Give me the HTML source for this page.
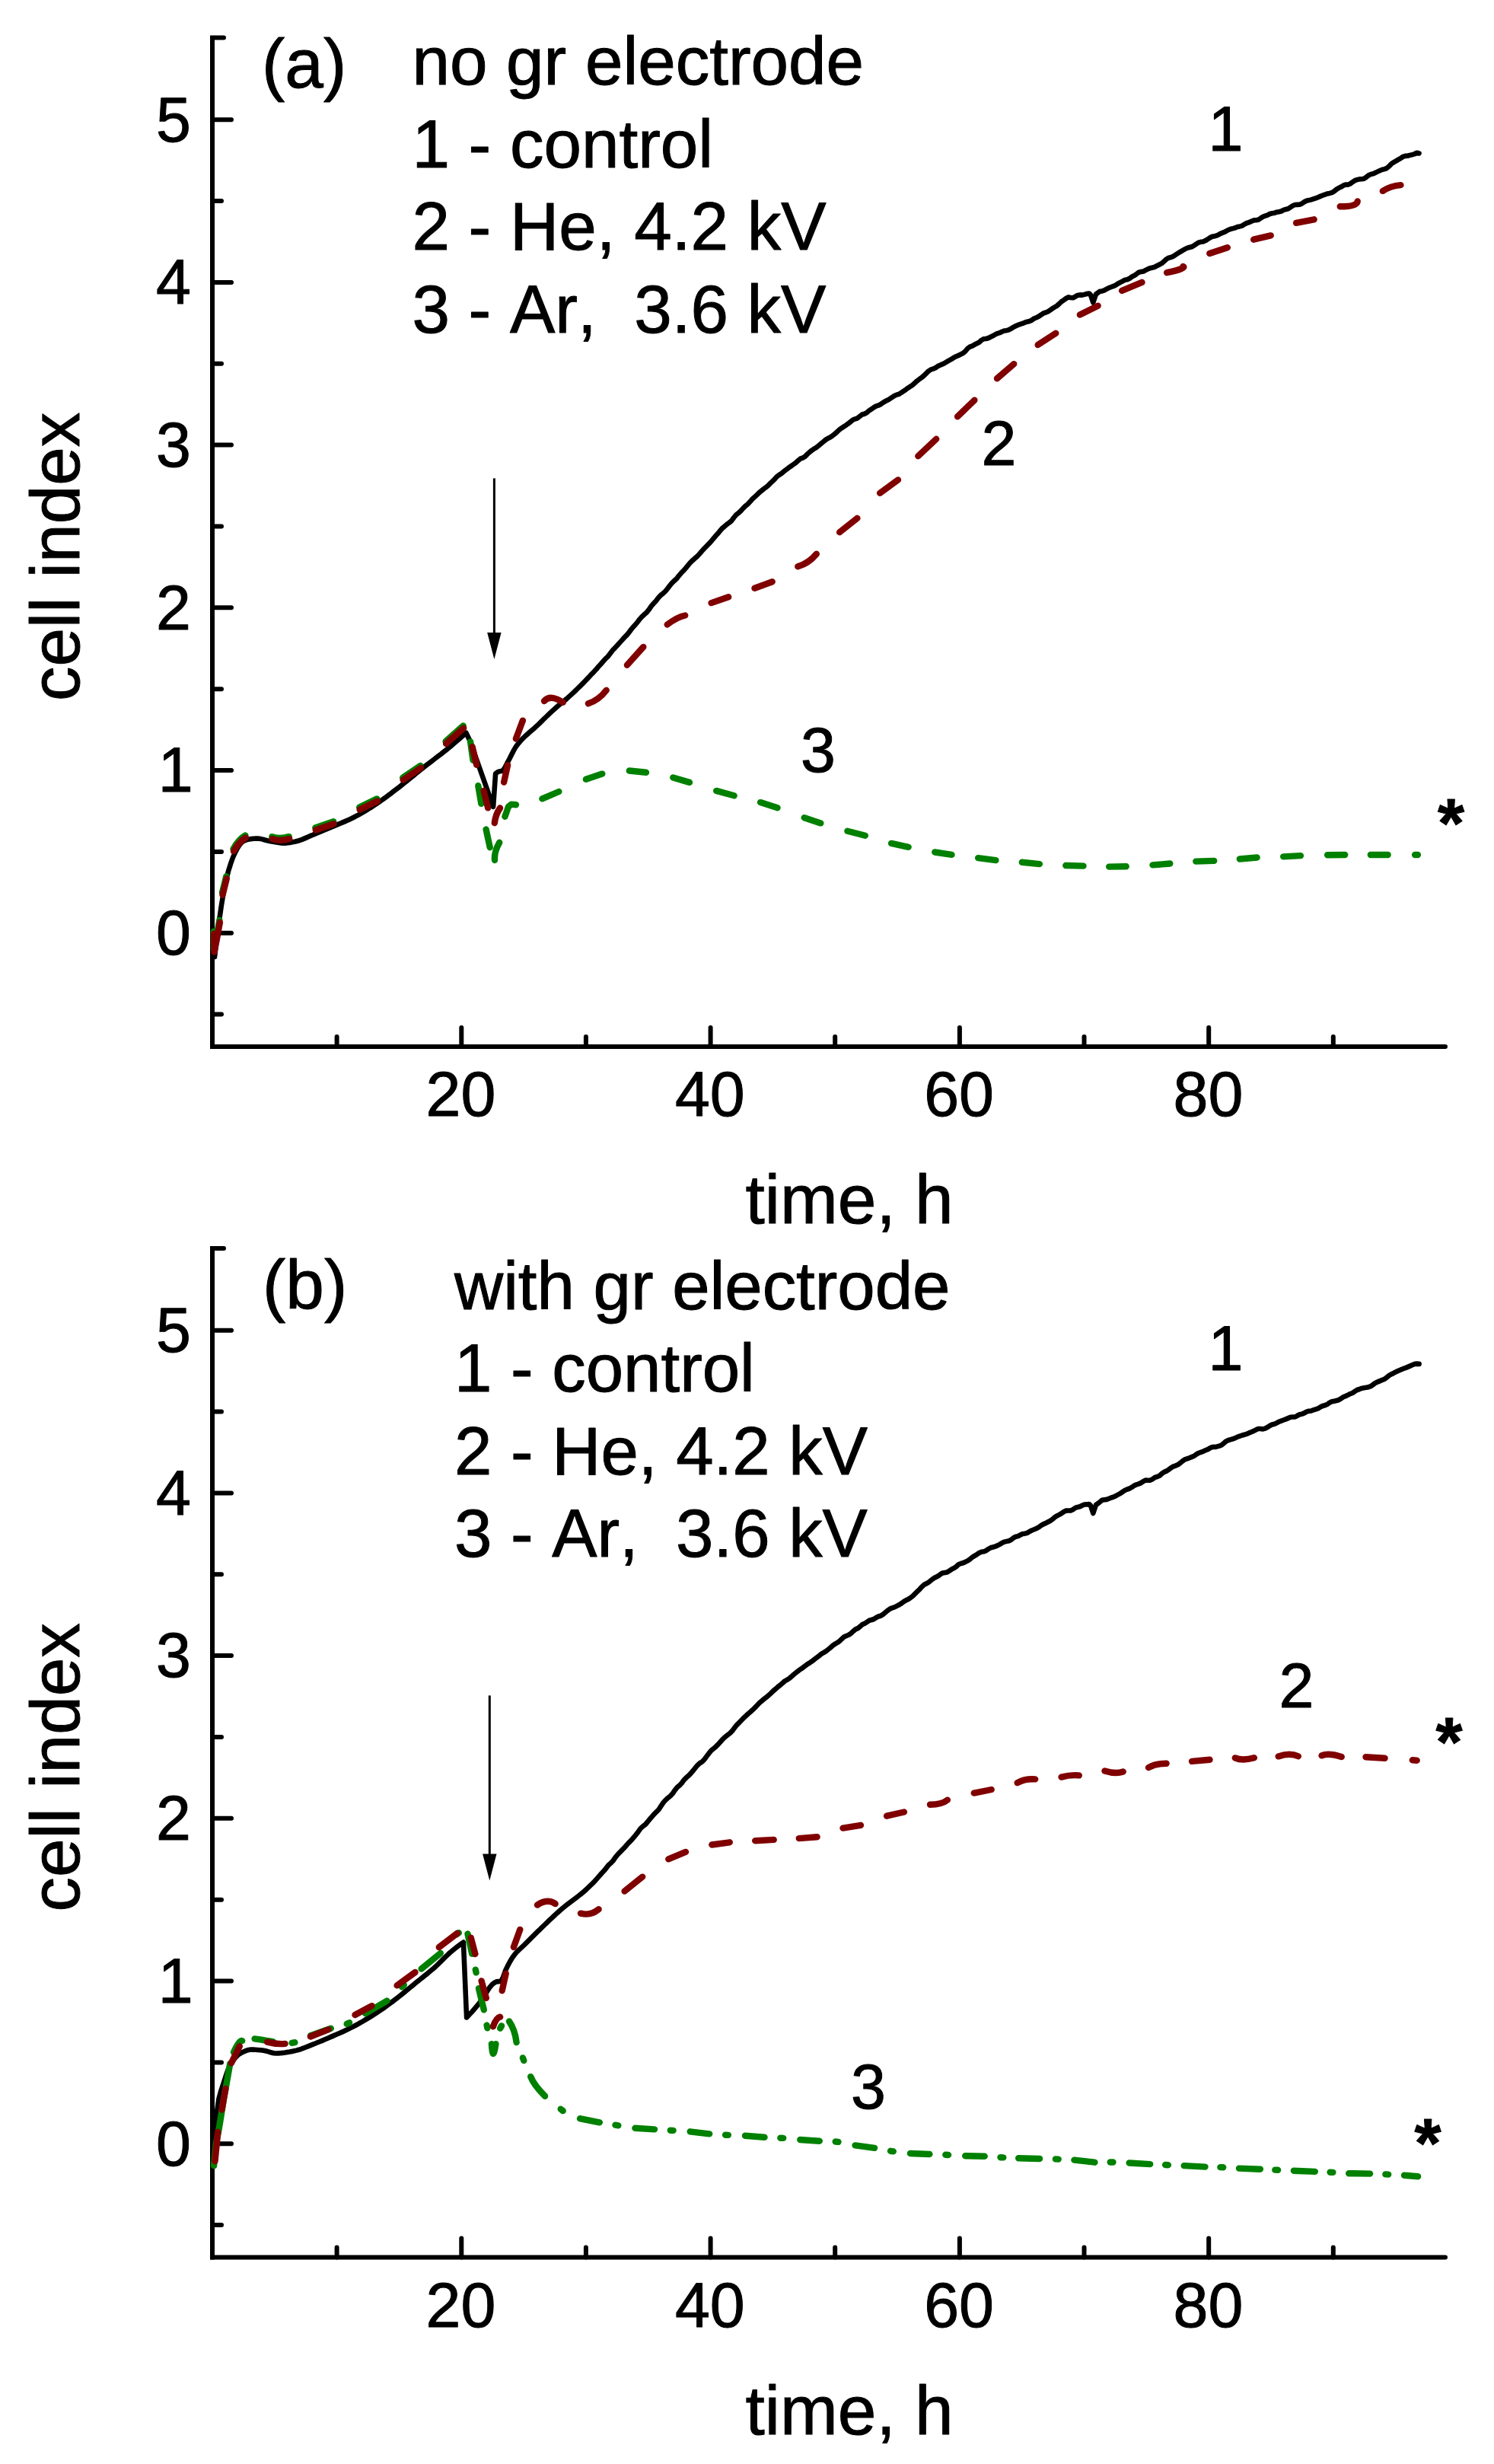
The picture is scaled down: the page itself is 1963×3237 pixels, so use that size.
<!DOCTYPE html>
<html lang="en"><head><meta charset="utf-8"><title>cell index vs time</title>
<style>
html,body{margin:0;padding:0;background:#fff;}
svg{display:block}
text{font-family:"Liberation Sans",Arial,Helvetica,sans-serif;fill:#000;stroke:#000;stroke-width:1px;stroke-linejoin:round;font-kerning:none;white-space:pre;font-variant-ligatures:none}
</style></head><body>
<svg width="1963" height="3237" viewBox="0 0 1963 3237">
<rect width="1963" height="3237" fill="#fff"/>
<g id="panel-a">
<path d="M294,49.5H279V1375H1899" fill="none" stroke="#000" stroke-width="6" stroke-linecap="round" stroke-linejoin="miter"/>
<rect x="276" y="1372" width="6" height="6" fill="#000"/>
<path d="M279,1225.7H304M279,1012.0H304M279,798.3H304M279,584.6H304M279,370.9H304M279,157.2H304M279,1332.5H291M279,1118.9H291M279,905.2H291M279,691.5H291M279,477.8H291M279,264.1H291M606.3,1375V1350M933.6,1375V1350M1260.9,1375V1350M1588.2,1375V1350M442.6,1375V1362M769.9,1375V1362M1097.2,1375V1362M1424.5,1375V1362M1751.8,1375V1362" fill="none" stroke="#000" stroke-width="6" stroke-linecap="round"/>
<text x="251" y="1254.0" font-size="82.5" text-anchor="end">0</text>
<text x="253.7" y="1040.3" font-size="82.5" text-anchor="end">1</text>
<text x="251" y="826.6" font-size="82.5" text-anchor="end">2</text>
<text x="251" y="612.9" font-size="82.5" text-anchor="end">3</text>
<text x="251" y="399.2" font-size="82.5" text-anchor="end">4</text>
<text x="251" y="185.5" font-size="82.5" text-anchor="end">5</text>
<text x="605.5" y="1466.0" font-size="82.5" text-anchor="middle">20</text>
<text x="932.8" y="1466.0" font-size="82.5" text-anchor="middle">40</text>
<text x="1260.1" y="1466.0" font-size="82.5" text-anchor="middle">60</text>
<text x="1587.4" y="1466.0" font-size="82.5" text-anchor="middle">80</text>
<text x="979.5" y="1607.0" font-size="91">time, h</text>
<text transform="translate(104,921.0) rotate(-90)" font-size="91">cell index</text>
<path d="M282.0,1257.0 L285.0,1232.7 L288.0,1209.5 L291.0,1188.7 L294.0,1171.0 L297.0,1156.5 L300.0,1144.6 L303.0,1134.9 L306.0,1126.5 L309.0,1119.9 L312.0,1114.2 L315.1,1109.4 L318.1,1106.2 L321.1,1104.5 L324.1,1103.3 L327.1,1102.6 L330.1,1102.1 L333.1,1101.8 L336.1,1101.6 L339.1,1101.5 L342.1,1101.9 L345.1,1102.6 L348.1,1103.5 L351.1,1104.3 L354.1,1105.0 L357.1,1105.5 L360.1,1106.1 L363.1,1106.6 L366.1,1107.0 L369.1,1107.4 L372.1,1107.6 L375.1,1107.6 L378.1,1107.3 L381.1,1106.9 L384.2,1106.3 L387.2,1105.7 L390.2,1105.0 L393.2,1104.2 L396.2,1103.2 L399.2,1101.9 L402.2,1100.6 L405.2,1099.3 L408.2,1097.9 L411.2,1096.7 L414.2,1095.4 L417.2,1094.2 L420.2,1093.0 L423.2,1091.7 L426.2,1090.5 L429.2,1089.2 L432.2,1088.0 L435.2,1086.7 L438.2,1085.4 L441.2,1084.1 L444.2,1082.9 L447.2,1081.7 L450.3,1080.4 L453.3,1079.1 L456.3,1077.8 L459.3,1076.4 L462.3,1075.0 L465.3,1073.5 L468.3,1071.9 L471.3,1070.3 L474.3,1068.6 L477.3,1066.9 L480.3,1065.1 L483.3,1063.2 L486.3,1061.4 L489.3,1059.4 L492.3,1057.5 L495.3,1055.5 L498.3,1053.5 L501.3,1051.4 L504.3,1049.3 L507.3,1047.1 L510.3,1044.8 L513.4,1042.6 L516.4,1040.2 L519.4,1037.9 L522.4,1035.6 L525.4,1033.3 L528.4,1030.9 L531.4,1028.5 L534.4,1026.1 L537.4,1023.7 L540.4,1021.2 L543.4,1018.8 L546.4,1016.3 L549.4,1013.9 L552.4,1011.5 L555.4,1009.1 L558.4,1006.7 L561.4,1004.4 L564.4,1002.1 L567.4,999.8 L570.4,997.5 L573.4,995.2 L576.4,992.9 L579.5,990.6 L582.5,988.2 L585.5,985.8 L588.5,983.4 L591.5,980.9 L594.5,978.4 L597.5,975.8 L600.5,973.3 L603.5,970.7 L606.5,968.1 L609.5,965.5 L612.5,962.8 L617.3,973.0 L630.6,1010.4 L648.1,1059.8 L651.1,1016.4 L654.1,1014.1 L657.1,1013.2 L660.1,1012.8 L663.1,1009.1 L666.2,1002.9 L669.2,997.3 L672.2,991.3 L675.2,985.4 L678.2,980.4 L681.2,976.5 L684.2,973.0 L687.2,969.9 L690.2,967.0 L693.3,964.2 L696.3,961.6 L699.3,959.0 L702.3,956.4 L705.3,953.6 L708.3,950.8 L711.3,947.8 L714.3,944.9 L717.3,942.0 L720.3,939.1 L723.4,936.2 L726.4,933.4 L729.4,930.7 L732.4,928.0 L735.4,925.5 L738.4,923.1 L741.4,920.6 L744.4,918.1 L747.4,915.4 L750.5,912.6 L753.5,909.8 L756.5,907.0 L759.5,904.0 L762.5,901.1 L765.5,898.1 L768.5,895.0 L771.5,891.9 L774.5,888.7 L777.6,885.3 L780.6,882.3 L783.6,879.1 L786.6,875.4 L789.6,872.2 L792.6,868.8 L795.6,865.4 L798.6,862.6 L801.6,858.8 L804.7,854.6 L807.7,851.4 L810.7,848.3 L813.7,844.9 L816.7,841.6 L819.7,838.2 L822.7,835.2 L825.7,831.8 L828.7,827.7 L831.7,824.0 L834.8,820.6 L837.8,817.0 L840.8,813.1 L843.8,809.8 L846.8,807.0 L849.8,804.4 L852.8,800.7 L855.8,796.1 L858.8,792.7 L861.9,789.5 L864.9,785.4 L867.9,782.2 L870.9,779.8 L873.9,777.1 L876.9,773.5 L879.9,769.5 L882.9,765.8 L885.9,763.0 L889.0,760.2 L892.0,756.3 L895.0,752.8 L898.0,749.7 L901.0,746.4 L904.0,742.7 L907.0,739.2 L910.0,736.2 L913.0,733.5 L916.1,730.9 L919.1,727.6 L922.1,724.1 L925.1,720.8 L928.1,717.7 L931.1,714.7 L934.1,711.5 L937.1,707.9 L940.1,704.3 L943.1,701.1 L946.2,697.2 L949.2,693.8 L952.2,691.4 L955.2,688.7 L958.2,686.6 L961.2,684.1 L964.2,680.0 L967.2,676.4 L970.2,674.0 L973.3,671.2 L976.3,667.9 L979.3,664.9 L982.3,662.5 L985.3,659.3 L988.3,655.8 L991.3,653.1 L994.3,650.3 L997.3,647.4 L1000.4,644.8 L1003.4,642.4 L1006.4,640.2 L1009.4,637.7 L1012.4,634.6 L1015.4,631.8 L1018.4,628.8 L1021.4,625.6 L1024.4,623.5 L1027.5,621.4 L1030.5,618.8 L1033.5,616.6 L1036.5,614.3 L1039.5,612.2 L1042.5,610.1 L1045.5,608.0 L1048.5,605.3 L1051.5,602.7 L1054.5,601.6 L1057.6,599.8 L1060.6,596.8 L1063.6,594.1 L1066.6,591.7 L1069.6,589.6 L1072.6,587.9 L1075.6,585.5 L1078.6,582.9 L1081.6,580.5 L1084.7,577.9 L1087.7,576.0 L1090.7,574.6 L1093.7,572.5 L1096.7,570.2 L1099.7,567.5 L1102.7,564.7 L1105.7,562.4 L1108.7,560.4 L1111.8,558.4 L1114.8,556.3 L1117.8,553.9 L1120.8,551.5 L1123.8,550.3 L1126.8,549.3 L1129.8,546.8 L1132.8,544.5 L1135.8,543.7 L1138.9,542.1 L1141.9,539.4 L1144.9,537.4 L1147.9,535.4 L1150.9,533.6 L1153.9,532.7 L1156.9,531.2 L1159.9,529.1 L1162.9,527.3 L1165.9,525.8 L1169.0,524.1 L1172.0,522.1 L1175.0,520.0 L1178.0,518.7 L1181.0,517.8 L1184.0,516.0 L1187.0,514.0 L1190.0,512.0 L1193.0,509.7 L1196.1,507.7 L1199.1,505.7 L1202.1,503.0 L1205.1,500.3 L1208.1,498.0 L1211.1,495.9 L1214.1,493.4 L1217.1,490.4 L1220.1,487.4 L1223.2,485.4 L1226.2,484.6 L1229.2,483.2 L1232.2,481.1 L1235.2,479.7 L1238.2,478.4 L1241.2,477.0 L1244.2,475.2 L1247.2,473.4 L1250.3,471.8 L1253.3,469.7 L1256.3,468.3 L1259.3,466.9 L1262.3,465.5 L1265.3,464.1 L1268.3,461.5 L1271.3,457.9 L1274.3,455.7 L1277.3,454.6 L1280.4,452.8 L1283.4,451.3 L1286.4,449.8 L1289.4,447.0 L1292.4,445.3 L1295.4,445.0 L1298.4,444.2 L1301.4,442.7 L1304.4,441.3 L1307.5,439.5 L1310.5,438.1 L1313.5,437.2 L1316.5,435.7 L1319.5,434.5 L1322.5,434.2 L1325.5,433.3 L1328.5,431.8 L1331.5,429.9 L1334.6,428.3 L1337.6,426.9 L1340.6,425.9 L1343.6,424.9 L1346.6,423.7 L1349.6,422.7 L1352.6,422.1 L1355.6,420.7 L1358.6,418.5 L1361.7,417.2 L1364.7,415.8 L1367.7,413.7 L1370.7,411.7 L1373.7,410.6 L1376.7,409.5 L1379.7,407.5 L1382.7,405.3 L1385.7,403.5 L1388.7,401.8 L1391.8,399.0 L1394.8,396.1 L1397.8,394.2 L1400.8,392.0 L1403.8,390.4 L1406.8,391.0 L1409.8,391.3 L1412.8,389.8 L1415.8,387.9 L1418.9,387.4 L1421.9,387.6 L1424.9,386.9 L1427.9,386.0 L1430.9,385.5 L1433.0,387.5 L1436.3,397.5 L1440.0,386.5 L1445.0,382.8 L1448.0,382.4 L1451.0,381.4 L1454.1,379.7 L1457.1,378.1 L1460.1,377.0 L1463.1,375.9 L1466.1,374.5 L1469.1,372.5 L1472.2,370.9 L1475.2,369.3 L1478.2,367.7 L1481.2,367.3 L1484.2,365.8 L1487.3,363.5 L1490.3,362.1 L1493.3,360.0 L1496.3,357.7 L1499.3,357.1 L1502.4,356.5 L1505.4,354.9 L1508.4,353.3 L1511.4,352.2 L1514.4,351.5 L1517.4,350.7 L1520.5,349.0 L1523.5,347.5 L1526.5,345.9 L1529.5,343.3 L1532.5,340.5 L1535.6,338.7 L1538.6,338.1 L1541.6,336.7 L1544.6,334.7 L1547.6,332.8 L1550.7,330.9 L1553.7,329.1 L1556.7,327.4 L1559.7,325.9 L1562.7,325.0 L1565.7,324.3 L1568.8,322.6 L1571.8,320.5 L1574.8,318.7 L1577.8,317.8 L1580.8,317.5 L1583.9,316.1 L1586.9,314.2 L1589.9,312.3 L1592.9,310.8 L1595.9,310.2 L1599.0,309.4 L1602.0,307.8 L1605.0,306.3 L1608.0,305.2 L1611.0,303.7 L1614.0,302.0 L1617.1,300.8 L1620.1,300.1 L1623.1,299.3 L1626.1,298.0 L1629.1,297.4 L1632.2,296.6 L1635.2,294.6 L1638.2,293.0 L1641.2,292.1 L1644.2,290.8 L1647.3,289.4 L1650.3,289.3 L1653.3,288.7 L1656.3,286.8 L1659.3,284.8 L1662.3,283.6 L1665.4,282.6 L1668.4,281.0 L1671.4,280.2 L1674.4,279.8 L1677.4,278.7 L1680.5,278.2 L1683.5,277.5 L1686.5,275.9 L1689.5,275.0 L1692.5,274.2 L1695.6,272.2 L1698.6,270.2 L1701.6,269.0 L1704.6,268.9 L1707.6,268.8 L1710.6,267.4 L1713.7,265.2 L1716.7,263.7 L1719.7,263.1 L1722.7,262.4 L1725.7,261.4 L1728.8,260.4 L1731.8,259.2 L1734.8,257.9 L1737.8,256.7 L1740.8,255.7 L1743.9,254.5 L1746.9,253.9 L1749.9,253.1 L1752.9,251.3 L1755.9,248.9 L1758.9,247.0 L1762.0,245.6 L1765.0,243.7 L1768.0,242.6 L1771.0,242.6 L1774.0,241.5 L1777.1,239.2 L1780.1,237.2 L1783.1,236.1 L1786.1,235.4 L1789.1,235.3 L1792.2,234.8 L1795.2,232.7 L1798.2,230.3 L1801.2,228.9 L1804.2,228.2 L1807.2,226.9 L1810.3,225.4 L1813.3,224.0 L1816.3,222.8 L1819.3,222.1 L1822.3,220.9 L1825.4,218.1 L1828.4,215.0 L1831.4,213.1 L1834.4,211.4 L1837.4,209.6 L1840.5,207.8 L1843.5,205.9 L1846.5,204.9 L1849.5,204.7 L1852.5,203.9 L1855.5,203.2 L1858.6,202.3 L1861.6,200.8 L1864.6,201.4" fill="none" stroke="#000" stroke-width="6.6" stroke-linejoin="round" stroke-linecap="round"/>
<path d="M280.8,1223.8L281.0,1247.5L284.0,1233.0L288.4,1208.8M292.0,1172.7L297.3,1151.3M306.5,1115.3Q313.6,1102.6 322.4,1097.5M357.3,1099.1Q367.9,1102.9 379.7,1099.1M414.3,1087.5L438.2,1079.3M472.2,1060.6L495.3,1049.4M529.2,1021.6L552.3,1005.9M585.6,974.0L608.7,953.5M618.1,974.4L621.5,998.7M628.3,1032.2L632.3,1055.9M638.6,1089.5L643.7,1113.2M650.0,1130.0Q649.1,1119.2 656.2,1106.8M663.4,1072.8L668.0,1059.8L672.0,1056.6L678.0,1057.2M712.4,1049.4L734.3,1040.0M769.9,1023.8L791.3,1016.6M826.8,1012.5L849.0,1014.8M884.3,1021.5L906.0,1027.9M941.2,1038.9L964.6,1045.3M999.1,1054.1L1021.5,1061.2M1056.7,1074.2L1078.3,1081.4M1113.4,1091.8L1136.8,1097.7M1171.1,1107.9L1193.6,1112.8M1228.3,1119.5L1250.5,1122.9M1285.2,1127.1L1308.4,1130.1M1342.8,1132.8L1365.9,1135.1M1400.3,1137.0L1423.5,1137.6M1457.2,1138.6L1479.7,1138.3M1514.5,1136.4L1537.3,1134.5M1571.3,1131.6L1595.2,1130.9M1628.8,1128.5L1651.6,1126.5M1686.2,1125.4L1708.9,1124.1M1744.1,1123.3L1767.2,1123.0M1800.8,1123.0L1823.6,1123.0M1859.1,1123.0L1862.9,1123.0" fill="none" stroke="#008000" stroke-width="8.4" stroke-linecap="round" stroke-linejoin="round"/>
<path d="M281.3,1226.8L281.5,1250.5L284.5,1236.0L288.9,1211.8M292.5,1175.7L297.8,1154.3M307.0,1118.3Q314.1,1105.6 322.9,1100.5M357.8,1102.1Q368.4,1105.9 380.2,1102.1M414.8,1090.5L438.7,1082.3M472.7,1063.6L495.8,1052.4M529.7,1024.6L552.8,1008.9M586.1,977.0L609.2,956.5M620.6,981.0L626.2,1004.7M635.6,1038.9L641.2,1061.4M649.8,1081.2Q651.2,1069.8 657.0,1061.5M662.1,1027.6L667.1,1005.1M677.9,970.5L686.9,946.6M715.0,921.0Q722.7,911.8 739.7,922.7M772.9,924.2Q786.4,920.3 796.7,906.8M823.9,873.8L845.3,849.9M876.7,820.5Q890.1,810.5 900.2,808.5M934.6,792.1L957.2,784.3M991.5,772.7L1014.7,764.3M1048.3,744.3Q1062.8,739.8 1072.8,727.7M1103.1,699.2L1126.4,680.8M1156.1,647.8L1180.0,630.4M1206.3,599.2L1230.2,576.8M1258.1,547.3L1280.4,525.7M1310.0,497.2L1332.2,478.1M1363.7,453.1L1387.3,437.8M1418.9,413.6L1442.6,401.7M1474.1,381.9L1500.5,370.8M1533.1,358.2Q1559.6,352.5 1554.5,349.9M1589.3,333.0L1612.8,325.2M1647.2,314.7L1669.7,309.4M1703.1,292.9L1726.6,288.3M1760.7,271.3Q1783.0,271.5 1783.7,264.5M1816.8,250.9Q1827.0,244.2 1840.4,243.1" fill="none" stroke="#800000" stroke-width="8.4" stroke-linecap="round" stroke-linejoin="round"/>
<path d="M649.4,628.4V846" stroke="#000" stroke-width="3" fill="none"/><path d="M640.1999999999999,831H658.6L649.4,866Z" fill="#000"/>
<text x="344" y="115" font-size="91">(a)</text>
<text x="541.4" y="111.0" font-size="89" xml:space="preserve">no gr electrode</text>
<text x="541.4" y="219.7" font-size="89" xml:space="preserve">1 - control</text>
<text x="541.4" y="328.4" font-size="89" xml:space="preserve">2 - He, 4.2 kV</text>
<text x="541.4" y="437.1" font-size="89" xml:space="preserve">3 - Ar,  3.6 kV</text>
<text x="1587.6" y="197.7" font-size="82.5">1</text>
<text x="1289.5" y="611.4" font-size="82.5">2</text>
<text x="1052" y="1014.2" font-size="82.5">3</text>
<text x="1889" y="1112.5" font-size="90" font-weight="bold">*</text>
</g>
<g id="panel-b">
<path d="M294,1640.0H279V2965.5H1899" fill="none" stroke="#000" stroke-width="6" stroke-linecap="round" stroke-linejoin="miter"/>
<rect x="276" y="2962.5" width="6" height="6" fill="#000"/>
<path d="M279,2816.2H304M279,2602.5H304M279,2388.8H304M279,2175.1H304M279,1961.4H304M279,1747.7H304M279,2923.1H291M279,2709.4H291M279,2495.7H291M279,2281.9H291M279,2068.2H291M279,1854.6H291M606.3,2965.5V2940.5M933.6,2965.5V2940.5M1260.9,2965.5V2940.5M1588.2,2965.5V2940.5M442.6,2965.5V2952.5M769.9,2965.5V2952.5M1097.2,2965.5V2952.5M1424.5,2965.5V2952.5M1751.8,2965.5V2952.5" fill="none" stroke="#000" stroke-width="6" stroke-linecap="round"/>
<text x="251" y="2844.5" font-size="82.5" text-anchor="end">0</text>
<text x="253.7" y="2630.8" font-size="82.5" text-anchor="end">1</text>
<text x="251" y="2417.1" font-size="82.5" text-anchor="end">2</text>
<text x="251" y="2203.4" font-size="82.5" text-anchor="end">3</text>
<text x="251" y="1989.7" font-size="82.5" text-anchor="end">4</text>
<text x="251" y="1776.0" font-size="82.5" text-anchor="end">5</text>
<text x="605.5" y="3056.5" font-size="82.5" text-anchor="middle">20</text>
<text x="932.8" y="3056.5" font-size="82.5" text-anchor="middle">40</text>
<text x="1260.1" y="3056.5" font-size="82.5" text-anchor="middle">60</text>
<text x="1587.4" y="3056.5" font-size="82.5" text-anchor="middle">80</text>
<text x="979.5" y="3197.5" font-size="91">time, h</text>
<text transform="translate(104,2511.5) rotate(-90)" font-size="91">cell index</text>
<path d="M281.5,2845.5 L284.5,2777.7 L287.5,2757.1 L290.5,2746.2 L293.5,2737.3 L296.5,2727.9 L299.5,2719.4 L302.5,2712.6 L305.5,2708.0 L308.5,2704.1 L311.5,2700.8 L314.5,2698.3 L317.5,2696.6 L320.5,2695.2 L323.6,2693.9 L326.6,2693.0 L329.6,2692.6 L332.6,2692.6 L335.6,2692.8 L338.6,2693.0 L341.6,2693.2 L344.6,2693.5 L347.6,2694.0 L350.6,2694.7 L353.6,2695.6 L356.6,2696.5 L359.6,2697.2 L362.6,2697.5 L365.6,2697.4 L368.6,2697.2 L371.6,2696.9 L374.6,2696.5 L377.6,2696.0 L380.6,2695.5 L383.6,2694.9 L386.6,2694.3 L389.6,2693.6 L392.6,2692.8 L395.6,2691.8 L398.6,2690.7 L401.6,2689.5 L404.7,2688.3 L407.7,2687.1 L410.7,2685.9 L413.7,2684.7 L416.7,2683.5 L419.7,2682.3 L422.7,2681.1 L425.7,2679.8 L428.7,2678.5 L431.7,2677.2 L434.7,2675.9 L437.7,2674.6 L440.7,2673.3 L443.7,2672.0 L446.7,2670.7 L449.7,2669.4 L452.7,2668.0 L455.7,2666.6 L458.7,2665.1 L461.7,2663.6 L464.7,2662.1 L467.7,2660.5 L470.7,2658.9 L473.7,2657.2 L476.7,2655.5 L479.7,2653.7 L482.7,2651.9 L485.7,2650.1 L488.8,2648.2 L491.8,2646.3 L494.8,2644.3 L497.8,2642.3 L500.8,2640.3 L503.8,2638.2 L506.8,2636.1 L509.8,2633.9 L512.8,2631.7 L515.8,2629.5 L518.8,2627.2 L521.8,2624.9 L524.8,2622.5 L527.8,2620.1 L530.8,2617.6 L533.8,2615.2 L536.8,2612.7 L539.8,2610.2 L542.8,2607.8 L545.8,2605.3 L548.8,2602.9 L551.8,2600.5 L554.8,2598.1 L557.8,2595.7 L560.8,2593.3 L563.8,2590.8 L566.8,2588.3 L569.9,2585.7 L572.9,2583.0 L575.9,2580.1 L578.9,2577.2 L581.9,2574.1 L584.9,2571.1 L587.9,2568.3 L590.9,2565.5 L593.9,2563.0 L596.9,2560.5 L599.9,2558.2 L602.9,2555.9 L605.9,2553.7 L608.9,2551.6 L613.1,2650.4 L616.1,2647.3 L619.1,2644.1 L622.1,2640.7 L625.1,2637.2 L628.1,2633.6 L631.1,2629.8 L634.1,2625.4 L637.2,2620.6 L640.2,2615.7 L643.2,2611.2 L646.2,2607.6 L649.2,2605.0 L652.2,2603.4 L655.2,2603.1 L658.2,2602.8 L661.2,2597.2 L664.2,2588.5 L667.2,2582.4 L670.2,2576.8 L673.2,2571.8 L676.2,2567.7 L679.2,2564.2 L682.3,2561.1 L685.3,2558.3 L688.3,2555.6 L691.3,2552.7 L694.3,2549.7 L697.3,2546.7 L700.3,2543.7 L703.3,2540.7 L706.3,2537.7 L709.3,2534.8 L712.3,2531.9 L715.3,2529.0 L718.3,2526.1 L721.3,2523.2 L724.3,2520.4 L727.4,2517.5 L730.4,2514.7 L733.4,2512.0 L736.4,2509.3 L739.4,2506.8 L742.4,2504.3 L745.4,2501.9 L748.4,2499.6 L751.4,2497.3 L754.4,2495.1 L757.4,2492.8 L760.4,2490.5 L763.4,2488.1 L766.4,2485.7 L769.4,2483.0 L772.5,2480.1 L775.5,2477.2 L778.5,2474.4 L781.5,2471.3 L784.5,2467.9 L787.5,2464.4 L790.5,2461.0 L793.5,2457.8 L796.5,2454.1 L799.5,2450.3 L802.5,2447.6 L805.5,2444.5 L808.5,2440.2 L811.5,2436.5 L814.5,2433.3 L817.6,2430.2 L820.6,2427.2 L823.6,2423.6 L826.6,2420.3 L829.6,2417.3 L832.6,2413.8 L835.6,2410.3 L838.6,2406.4 L841.6,2402.2 L844.6,2399.4 L847.6,2397.2 L850.6,2393.8 L853.6,2390.0 L856.6,2386.6 L859.6,2383.1 L862.6,2380.2 L865.7,2377.0 L868.7,2372.3 L871.7,2367.9 L874.7,2364.6 L877.7,2361.8 L880.7,2359.5 L883.7,2356.3 L886.7,2351.8 L889.7,2348.1 L892.7,2345.7 L895.7,2342.5 L898.7,2338.3 L901.7,2335.3 L904.7,2332.7 L907.7,2329.6 L910.8,2326.0 L913.8,2322.2 L916.8,2318.7 L919.8,2316.1 L922.8,2314.2 L925.8,2311.0 L928.8,2306.9 L931.8,2302.9 L934.8,2299.4 L937.8,2297.0 L940.8,2294.4 L943.8,2291.4 L946.8,2288.0 L949.8,2284.6 L952.8,2281.8 L955.9,2279.4 L958.9,2277.2 L961.9,2274.2 L964.9,2270.1 L967.9,2266.3 L970.9,2263.3 L973.9,2260.2 L976.9,2257.2 L979.9,2254.3 L982.9,2251.5 L985.9,2249.0 L988.9,2246.3 L991.9,2243.4 L994.9,2240.3 L997.9,2237.1 L1001.0,2234.4 L1004.0,2231.9 L1007.0,2229.6 L1010.0,2227.2 L1013.0,2224.4 L1016.0,2221.4 L1019.0,2218.9 L1022.0,2216.2 L1025.0,2213.8 L1028.0,2211.3 L1031.0,2208.5 L1034.0,2206.8 L1037.0,2205.0 L1040.0,2202.4 L1043.0,2199.8 L1046.1,2197.3 L1049.1,2194.9 L1052.1,2192.7 L1055.1,2190.7 L1058.1,2188.4 L1061.1,2186.1 L1064.1,2184.3 L1067.1,2182.3 L1070.1,2179.9 L1073.1,2177.7 L1076.1,2175.4 L1079.1,2172.8 L1082.1,2171.1 L1085.1,2169.3 L1088.1,2167.0 L1091.2,2164.5 L1094.2,2161.8 L1097.2,2159.7 L1100.2,2158.0 L1103.2,2155.8 L1106.2,2152.9 L1109.2,2150.3 L1112.2,2149.0 L1115.2,2147.8 L1118.2,2145.7 L1121.2,2142.8 L1124.2,2140.4 L1127.2,2139.1 L1130.2,2136.7 L1133.2,2134.1 L1136.3,2132.7 L1139.3,2130.8 L1142.3,2128.8 L1145.3,2128.0 L1148.3,2127.0 L1151.3,2125.0 L1154.3,2123.5 L1157.3,2122.7 L1160.3,2120.9 L1163.3,2118.2 L1166.3,2115.7 L1169.3,2113.6 L1172.3,2112.3 L1175.3,2111.4 L1178.3,2109.9 L1181.4,2108.3 L1184.4,2106.4 L1187.4,2104.1 L1190.4,2102.3 L1193.4,2100.9 L1196.4,2099.0 L1199.4,2096.7 L1202.4,2093.7 L1205.4,2090.7 L1208.4,2087.8 L1211.4,2084.4 L1214.4,2081.8 L1217.4,2080.3 L1220.4,2078.5 L1223.4,2076.0 L1226.5,2073.6 L1229.5,2072.0 L1232.5,2070.5 L1235.5,2068.3 L1238.5,2066.4 L1241.5,2065.9 L1244.5,2065.4 L1247.5,2063.7 L1250.5,2061.5 L1253.5,2060.1 L1256.5,2058.0 L1259.5,2055.2 L1262.5,2054.0 L1265.5,2053.2 L1268.5,2051.9 L1271.5,2050.4 L1274.6,2048.3 L1277.6,2045.8 L1280.6,2043.9 L1283.6,2042.1 L1286.6,2040.1 L1289.6,2038.7 L1292.6,2038.3 L1295.6,2037.2 L1298.6,2035.0 L1301.6,2033.3 L1304.6,2032.5 L1307.6,2031.6 L1310.6,2030.4 L1313.6,2028.9 L1316.6,2027.0 L1319.7,2025.6 L1322.7,2024.9 L1325.7,2024.2 L1328.7,2022.7 L1331.7,2020.2 L1334.7,2018.8 L1337.7,2018.1 L1340.7,2016.4 L1343.7,2015.0 L1346.7,2014.7 L1349.7,2013.8 L1352.7,2012.0 L1355.7,2010.5 L1358.7,2009.3 L1361.7,2008.0 L1364.8,2006.4 L1367.8,2004.2 L1370.8,2002.4 L1373.8,2001.1 L1376.8,1999.5 L1379.8,1998.0 L1382.8,1995.9 L1385.8,1993.3 L1388.8,1991.4 L1391.8,1989.9 L1394.8,1988.2 L1397.8,1986.0 L1400.8,1984.6 L1403.8,1984.5 L1406.8,1984.4 L1409.9,1983.0 L1412.9,1980.9 L1415.9,1979.9 L1418.9,1979.3 L1421.9,1977.8 L1424.9,1976.5 L1427.9,1976.4 L1430.9,1976.0 L1433.0,1978.0 L1436.3,1988.0 L1440.0,1977.0 L1445.0,1973.3 L1448.0,1970.8 L1451.0,1970.2 L1454.1,1969.9 L1457.1,1968.7 L1460.1,1967.5 L1463.1,1966.6 L1466.1,1965.2 L1469.1,1963.5 L1472.2,1961.8 L1475.2,1959.7 L1478.2,1957.8 L1481.2,1956.5 L1484.2,1955.5 L1487.3,1953.7 L1490.3,1951.6 L1493.3,1950.3 L1496.3,1949.4 L1499.3,1948.1 L1502.4,1946.0 L1505.4,1944.6 L1508.4,1944.7 L1511.4,1944.7 L1514.4,1943.1 L1517.4,1940.9 L1520.5,1940.0 L1523.5,1938.7 L1526.5,1936.0 L1529.5,1933.9 L1532.5,1932.6 L1535.6,1930.7 L1538.6,1928.3 L1541.6,1926.5 L1544.6,1925.6 L1547.6,1924.2 L1550.7,1922.0 L1553.7,1919.5 L1556.7,1917.3 L1559.7,1916.3 L1562.7,1915.3 L1565.7,1914.1 L1568.8,1912.8 L1571.8,1910.6 L1574.8,1908.8 L1577.8,1907.9 L1580.8,1906.7 L1583.9,1905.3 L1586.9,1904.1 L1589.9,1902.3 L1592.9,1901.0 L1595.9,1900.9 L1599.0,1900.4 L1602.0,1899.6 L1605.0,1898.5 L1608.0,1895.9 L1611.0,1893.4 L1614.0,1892.0 L1617.1,1891.1 L1620.1,1890.3 L1623.1,1889.1 L1626.1,1887.6 L1629.1,1886.6 L1632.2,1885.5 L1635.2,1884.7 L1638.2,1883.8 L1641.2,1882.4 L1644.2,1881.2 L1647.3,1879.9 L1650.3,1878.3 L1653.3,1877.0 L1656.3,1877.0 L1659.3,1877.4 L1662.3,1876.6 L1665.4,1875.0 L1668.4,1873.0 L1671.4,1871.5 L1674.4,1870.8 L1677.4,1869.4 L1680.5,1867.8 L1683.5,1866.6 L1686.5,1865.5 L1689.5,1864.4 L1692.5,1863.1 L1695.6,1861.7 L1698.6,1861.5 L1701.6,1861.5 L1704.6,1859.8 L1707.6,1858.3 L1710.6,1857.6 L1713.7,1856.4 L1716.7,1854.6 L1719.7,1853.8 L1722.7,1853.5 L1725.7,1852.3 L1728.8,1851.3 L1731.8,1850.3 L1734.8,1848.5 L1737.8,1847.0 L1740.8,1846.2 L1743.9,1845.0 L1746.9,1842.7 L1749.9,1841.3 L1752.9,1840.7 L1755.9,1840.0 L1758.9,1839.2 L1762.0,1837.4 L1765.0,1835.3 L1768.0,1834.1 L1771.0,1832.7 L1774.0,1831.1 L1777.1,1830.0 L1780.1,1827.8 L1783.1,1826.0 L1786.1,1825.0 L1789.1,1823.9 L1792.2,1823.2 L1795.2,1822.8 L1798.2,1822.2 L1801.2,1821.2 L1804.2,1819.0 L1807.2,1816.7 L1810.3,1815.4 L1813.3,1814.1 L1816.3,1812.8 L1819.3,1811.7 L1822.3,1809.4 L1825.4,1806.8 L1828.4,1805.2 L1831.4,1803.7 L1834.4,1802.1 L1837.4,1800.8 L1840.5,1799.4 L1843.5,1798.2 L1846.5,1797.2 L1849.5,1795.9 L1852.5,1794.6 L1855.5,1793.3 L1858.6,1791.9 L1861.6,1791.6 L1864.6,1791.9" fill="none" stroke="#000" stroke-width="6.6" stroke-linejoin="round" stroke-linecap="round"/>
<path d="M281.1,2845.0L284.0,2815.0L287.4,2798.4L290.4,2780.3L294.0,2757.0L297.5,2738.2L302.3,2711.0M307.0,2696.1Q314.4,2679.8 318.2,2681.1M334.6,2678.4Q353.8,2681.3 359.0,2682.3M383.6,2683.8L387.4,2683.2M408.1,2674.2L434.8,2664.8M455.7,2658.9L459.1,2657.3M480.1,2645.2L508.4,2628.5M528.0,2610.2L530.8,2607.6M553.6,2586.5L578.8,2566.0M599.8,2541.4L602.8,2539.2M614.5,2540.5L620.2,2566.8M624.8,2587.6L625.6,2591.4M629.0,2612.2L635.8,2640.3M639.6,2660.5L640.4,2664.3M645.9,2685.1Q647.5,2710.9 651.4,2685.1M657.2,2664.6L659.0,2661.4M669.0,2655.5Q676.6,2666.3 678.6,2683.1M686.9,2703.4L688.3,2707.0M697.2,2728.1Q701.5,2739.1 716.1,2753.7M736.7,2770.7L739.7,2773.1M762.0,2783.2L787.8,2788.3M808.5,2791.7L812.3,2792.3M834.4,2795.8L860.0,2797.4M880.8,2798.7L884.6,2798.9M906.7,2800.3L932.2,2803.3M953.1,2804.7L956.9,2804.9M979.0,2805.8L1004.5,2807.8M1025.4,2808.7L1029.2,2808.9M1051.3,2811.0L1076.8,2812.7M1097.7,2813.5L1101.5,2813.9M1123.6,2818.4L1149.1,2821.8M1170.0,2825.8L1173.8,2826.4M1195.9,2829.0L1221.4,2830.0M1242.3,2830.8L1246.1,2831.0M1268.2,2832.2L1293.7,2832.8M1314.5,2834.2L1318.3,2834.4M1338.2,2835.3L1366.1,2836.0M1386.9,2836.4L1390.7,2836.6M1411.4,2837.7L1438.4,2840.7M1458.7,2840.5L1462.5,2840.5M1483.7,2841.5L1511.2,2843.1M1531.1,2844.0L1534.9,2844.2M1555.7,2845.1L1583.5,2846.6M1603.4,2847.1L1607.2,2847.3M1628.0,2848.6L1655.9,2849.7M1675.3,2850.6L1679.1,2850.8M1699.9,2851.7L1727.8,2852.9M1747.6,2853.7L1751.4,2853.9M1772.2,2855.2L1800.1,2855.6M1820.4,2856.4L1824.2,2856.6M1845.0,2857.7L1863.1,2859.3" fill="none" stroke="#008000" stroke-width="8.4" stroke-linecap="round" stroke-linejoin="round"/>
<path d="M282.5,2839.2L286.3,2800.8M291.5,2771.5L296.4,2744.0M303.9,2710.3L314.8,2688.2M351.1,2682.6Q364.6,2686.0 374.6,2684.9M407.9,2675.5L431.6,2666.1M466.5,2647.0L488.5,2635.1M521.6,2608.4L545.5,2591.0M576.8,2558.2L600.7,2539.8M618.8,2545.7L624.4,2567.0M632.6,2602.4L638.8,2624.9M647.9,2662.3Q652.1,2650.8 657.1,2649.7M659.7,2615.2L664.7,2592.7M674.9,2558.0L683.3,2534.9M706.0,2502.6Q719.4,2494.0 729.6,2501.0M763.0,2513.6Q776.2,2517.1 786.6,2508.3M820.6,2484.6L844.2,2465.6M878.3,2442.3L901.0,2432.9M935.3,2423.5L958.8,2420.3M992.2,2418.2L1016.7,2416.9M1049.8,2415.1L1073.6,2413.3M1107.5,2401.6L1131.0,2397.8M1165.1,2385.7L1187.9,2380.5M1222.0,2370.8Q1237.6,2370.7 1244.9,2364.6M1279.8,2355.6L1302.7,2351.0M1336.7,2342.1Q1347.0,2336.4 1360.2,2337.4M1394.6,2334.6Q1406.2,2331.3 1417.8,2332.4M1451.5,2326.5Q1466.0,2331.0 1475.7,2327.5M1509.0,2322.1Q1519.2,2316.6 1532.6,2316.8M1566.0,2313.9L1589.5,2311.7M1622.8,2309.4Q1632.1,2313.7 1647.9,2309.3M1679.7,2307.4Q1695.0,2302.3 1705.8,2307.3M1736.6,2306.4Q1745.3,2302.4 1762.7,2308.0M1794.5,2308.2L1819.6,2309.8M1855.8,2312.3L1861.7,2312.7" fill="none" stroke="#800000" stroke-width="8.4" stroke-linecap="round" stroke-linejoin="round"/>
<path d="M643.3,2227.4V2450.4" stroke="#000" stroke-width="3" fill="none"/><path d="M634.0999999999999,2435.4H652.5L643.3,2470.4Z" fill="#000"/>
<text x="345" y="1719" font-size="91">(b)</text>
<text x="597" y="1720.0" font-size="88.8" xml:space="preserve">with gr electrode</text>
<text x="597" y="1828.4" font-size="88.8" xml:space="preserve">1 - control</text>
<text x="597" y="1936.8" font-size="88.8" xml:space="preserve">2 - He, 4.2 kV</text>
<text x="597" y="2045.2" font-size="88.8" xml:space="preserve">3 - Ar,  3.6 kV</text>
<text x="1587.6" y="1800.4" font-size="82.5">1</text>
<text x="1680.5" y="2243.2" font-size="82.5">2</text>
<text x="1118" y="2769.8" font-size="82.5">3</text>
<text x="1886.5" y="2319.5" font-size="90" font-weight="bold">*</text>
<text x="1858.5" y="2846.5" font-size="90" font-weight="bold">*</text>
</g>
</svg></body></html>
